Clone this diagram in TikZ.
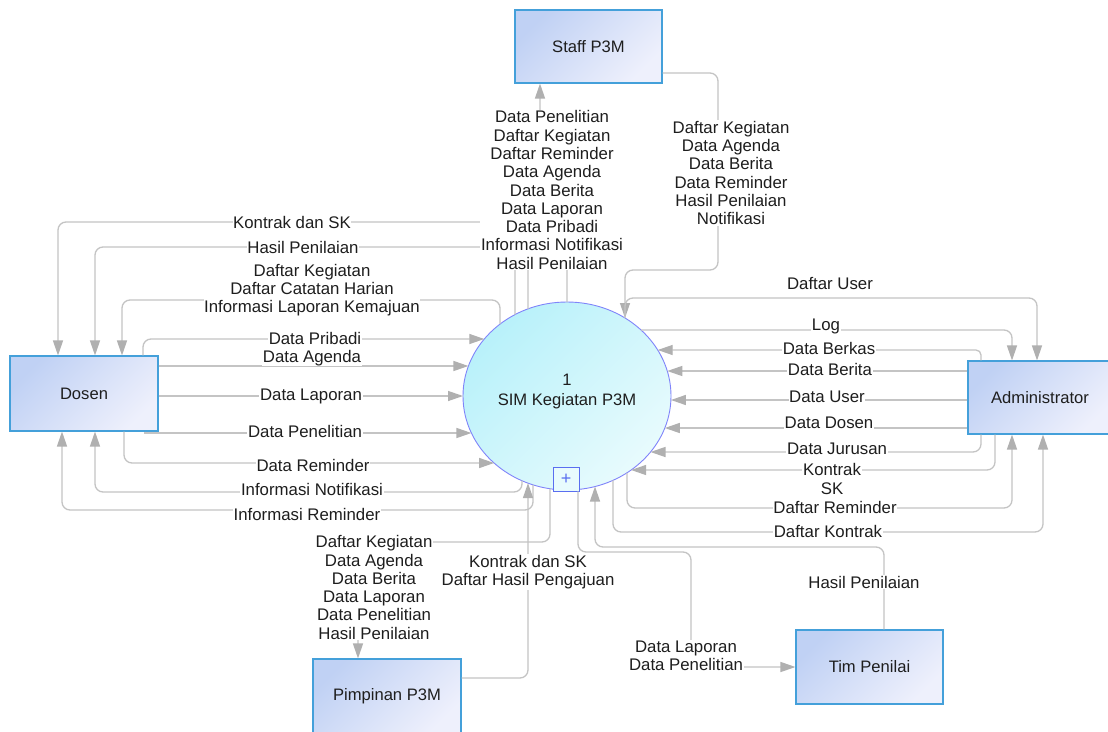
\documentclass[tikz,border=0pt]{standalone}
\usepackage{fontspec}
\setmainfont{Liberation Sans}
\usetikzlibrary{arrows.meta,shapes.geometric,calc}
\definecolor{linec}{RGB}{196,196,196}
\definecolor{arrc}{RGB}{176,176,176}
\definecolor{boxb}{RGB}{68,160,218}
\definecolor{boxA}{RGB}{192,209,244}
\definecolor{boxB}{RGB}{238,240,252}
\definecolor{cirb}{RGB}{128,132,250}
\definecolor{cirA}{RGB}{184,241,250}
\definecolor{cirB}{RGB}{232,251,253}
\definecolor{plusc}{RGB}{90,110,240}
\definecolor{txt}{RGB}{30,30,30}
\begin{document}
\begin{tikzpicture}[x=1pt,y=-1pt,
  entity/.style={rectangle, draw=boxb, line width=1.1pt, top color=boxA, bottom color=boxB, shading angle=45, inner sep=0pt, font=\fontsize{16.6}{18.3}\selectfont, text=txt},
  flow/.style={draw=linec, line width=1.3pt, rounded corners=8pt, -{Triangle[length=15pt,width=10pt,color=arrc]}},
  lbl/.style={fill=white, inner sep=0.6pt, align=center, font=\fontsize{16.8}{18.3}\selectfont, text=txt},
]
\fill[white] (0,0) rectangle (1108,731);
\useasboundingbox (0,0) rectangle (1108,731);

% entities
\node[entity, minimum width=147pt, minimum height=73pt] (staff) at (588.5,46.5) {Staff P3M};
\node[entity, minimum width=148pt, minimum height=75pt] (dosen) at (84,393.5) {Dosen};
\node[entity, minimum width=144pt, minimum height=73pt] (admin) at (1040,397.5) {Administrator};
\node[entity, minimum width=148pt, minimum height=75pt] (pimp) at (387,696.5) {Pimpinan P3M};
\node[entity, minimum width=147pt, minimum height=74pt] (tim) at (869.5,667) {Tim Penilai};

% process
\node[ellipse, draw=cirb, line width=0.9pt, top color=cirA, bottom color=cirB, shading angle=45, minimum width=208pt, minimum height=188pt, inner sep=0pt] (c) at (567,396) {};
\node[align=center, font=\fontsize{16.6}{20}\selectfont, text=txt] (ctext) at (567,392) {1\\SIM Kegiatan P3M};
\node[rectangle, draw=plusc, line width=0.9pt, fill=cirB, minimum width=26pt, minimum height=24pt, inner sep=0pt, text=plusc, font=\fontsize{18}{18}\selectfont] (plus) at (566,479) {+};

% Dosen flows
\draw[flow] ($(c)+(-39,-87.1)$) -- (528,222) -- (58,222) -- (dosen.north -| 58,0);
\draw[flow] ($(c)+(-52,-81.4)$) -- (515,247) -- (95,247) -- (dosen.north -| 95,0);
\draw[flow] ($(c)+(-67,-71.9)$) -- (500,300) -- (122,300) -- (dosen.north -| 122,0);
\draw[flow] (dosen.north -| 143,0) -- (143,339) -- ($(c)+(-82.7,-57)$);
\draw[flow] (dosen.east |- 0,366) -- ($(c)+(-98.6,-30)$);
\draw[flow] (dosen.east |- 0,396) -- ($(c)+(-104,0)$);
\draw[flow,sharp corners] (dosen.south -| 145,0) -- (145,433) -- ($(c)+(-95.6,37)$);
\draw[flow] (dosen.south -| 124,0) -- (124,463) -- ($(c)+(-72.9,67)$);
\draw[flow] ($(c)+(-45,84.7)$) -- (522,492) -- (95,492) -- (dosen.south -| 95,0);
\draw[flow] ($(c)+(-34,88.8)$) -- (533,510) -- (62,510) -- (dosen.south -| 62,0);

% Staff flows
\draw[flow] ($(c)+(0,-94)$) -- (567,190) -- (540,190) -- (staff.south -| 540,0);
\draw[flow] (staff.east |- 0,73) -- (718,73) -- (718,270) -- (625,270) -- ($(c)+(58,-78)$);

% Pimpinan flows
\draw[flow] ($(c)+(-17,92.7)$) -- (550,542) -- (358,542) -- (pimp.north -| 358,0);
\draw[flow] (pimp.east |- 0,678) -- (528,678) -- ($(c)+(-39,87.1)$);

% Tim Penilai flows
\draw[flow] (plus.south -| 578,0) -- (578,552) -- (691,552) -- (691,667) -- (tim.west |- 0,667);
\draw[flow] (tim.north -| 884,0) -- (884,547) -- (595,547) -- ($(c)+(28,90.5)$);

% Administrator flows
\draw[flow] ($(c)+(58,-78)$) -- (625,298) -- (1037,298) -- (admin.north -| 1037,0);
\draw[flow] ($(c)+(74.1,-66)$) -- (1012,330) -- (admin.north -| 1012,0);
\draw[flow,rounded corners=5pt] (admin.north -| 981,0) -- (981,350) -- ($(c)+(90.7,-46)$);
\draw[flow] (admin.west |- 0,371) -- ($(c)+(100.3,-25)$);
\draw[flow] (admin.west |- 0,400) -- ($(c)+(103.9,4)$);
\draw[flow] (admin.west |- 0,428) -- ($(c)+(97.8,32)$);
\draw[flow] (admin.south -| 981,0) -- (981,452) -- ($(c)+(83.5,56)$);
\draw[flow] (admin.south -| 995,0) -- (995,470) -- ($(c)+(64.1,74)$);
\draw[flow] ($(c)+(60,76.8)$) -- (627,508) -- (1012,508) -- (admin.south -| 1012,0);
\draw[flow] ($(c)+(46,84.3)$) -- (613,532) -- (1043,532) -- (admin.south -| 1043,0);

% labels
\node[lbl] (l1) at (552,190) {Data Penelitian\\Daftar Kegiatan\\Daftar Reminder\\Data Agenda\\Data Berita\\Data Laporan\\Data Pribadi\\Informasi Notifikasi\\Hasil Penilaian};
\node[lbl] (l2) at (731,173) {Daftar Kegiatan\\Data Agenda\\Data Berita\\Data Reminder\\Hasil Penilaian\\Notifikasi};
\node[lbl] (l3) at (292,222) {Kontrak dan SK};
\node[lbl] (l4) at (303,247) {Hasil Penilaian};
\node[lbl] (l5) at (312,290) {Daftar Kegiatan\\Daftar Catatan Harian\\Informasi Laporan Kemajuan};
\node[lbl] (l6) at (315,338) {Data Pribadi};
\node[lbl] (l7) at (312,358) {Data Agenda};
\node[lbl] (l8) at (311,396) {Data Laporan};
\node[lbl] (l9) at (305,431) {Data Penelitian};
\node[lbl] (l10) at (313,465) {Data Reminder};
\node[lbl] (l11) at (312,489) {Informasi Notifikasi};
\node[lbl] (l12) at (307,514) {Informasi Reminder};
\node[lbl] (l13) at (374,587.5) {Daftar Kegiatan\\Data Agenda\\Data Berita\\Data Laporan\\Data Penelitian\\Hasil Penilaian};
\node[lbl] (l14) at (528,572) {Kontrak dan SK\\Daftar Hasil Pengajuan};
\node[lbl] (l15) at (686,656) {Data Laporan\\Data Penelitian};
\node[lbl] (l16) at (864,582) {Hasil Penilaian};
\node[lbl] (l17) at (830,283) {Daftar User};
\node[lbl] (l18) at (826,326) {Log};
\node[lbl] (l19) at (829,348) {Data Berkas};
\node[lbl] (l20) at (830,369) {Data Berita};
\node[lbl] (l21) at (827,397) {Data User};
\node[lbl] (l22) at (829,423) {Data Dosen};
\node[lbl] (l23) at (837,449) {Data Jurusan};
\node[lbl] (l24) at (832,479) {Kontrak\\SK};
\node[lbl] (l25) at (835,507) {Daftar Reminder};
\node[lbl] (l26) at (828,531) {Daftar Kontrak};
\end{tikzpicture}
\end{document}
